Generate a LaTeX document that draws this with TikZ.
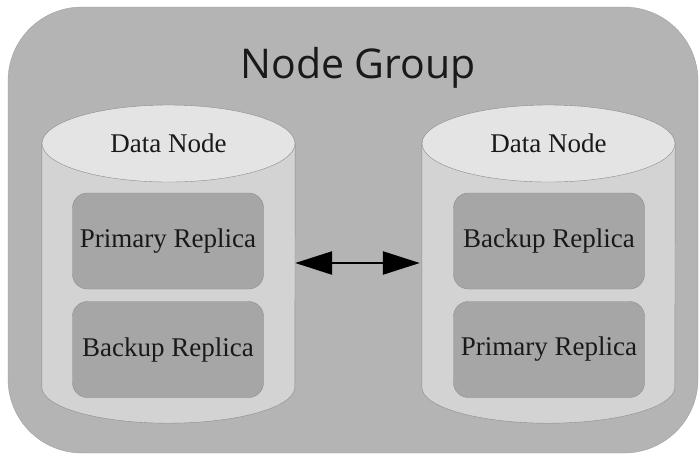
\documentclass[tikz,border=0pt]{standalone}
\usepackage{fontspec}
\setmainfont{Liberation Serif}
\newfontfamily\titlefont{Open Sans}
\usetikzlibrary{shapes.geometric,arrows.meta}
\definecolor{outerfill}{RGB}{180,180,180}
\definecolor{cylfill}{RGB}{211,211,211}
\definecolor{topfill}{RGB}{228,228,228}
\definecolor{boxfill}{RGB}{166,166,166}
\definecolor{edgecol}{RGB}{140,140,140}
\definecolor{txt}{RGB}{25,25,25}
\tikzset{
  replica/.style={draw=edgecol, line width=0.4pt, fill=boxfill, rounded corners=15pt,
    minimum width=191pt, minimum height=96pt, inner sep=0pt, font=\fontsize{27}{30}\selectfont, text=txt},
  cyltop/.style={ellipse, draw=edgecol, line width=0.4pt, fill=topfill, minimum width=253pt,
    minimum height=77pt, inner sep=0pt, font=\fontsize{27}{30}\selectfont, text=txt},
  cylbody/.style={minimum width=253pt, minimum height=244pt, inner sep=0pt},
  link/.style={line width=2.5pt, black, {Triangle[length=37pt,width=23pt]}-{Triangle[length=37pt,width=23pt]}}
}
\begin{document}
\begin{tikzpicture}[x=1pt,y=1pt]
\useasboundingbox (0,0) rectangle (700,-456);
% outer group
\node[draw=outerfill!85!black, line width=0.3pt, fill=outerfill, rounded corners=74pt,
  minimum width=690pt, minimum height=446pt, inner sep=0pt] (group) at (353,-230) {};
\node[anchor=base, font=\titlefont\fontsize{41}{45}\selectfont, text=txt] (title) at (358,-78) {Node Group};
% left cylinder
\node[cylbody] (cyl1) at (168.5,-265) {};
\path[fill=cylfill, draw=edgecol, line width=0.4pt] (cyl1.north west) -- (cyl1.south west)
  arc[start angle=180, end angle=360, x radius=126.5, y radius=36] -- (cyl1.north east) -- cycle;
\node[cyltop] (top1) at (168.5,-143.5) {Data Node};
\node[replica] (p1) at (168,-241) {Primary Replica};
\node[replica] (b1) at (168,-349.5) {Backup Replica};
% right cylinder
\node[cylbody] (cyl2) at (548.5,-265) {};
\path[fill=cylfill, draw=edgecol, line width=0.4pt] (cyl2.north west) -- (cyl2.south west)
  arc[start angle=180, end angle=360, x radius=126.5, y radius=36] -- (cyl2.north east) -- cycle;
\node[cyltop] (top2) at (548.5,-143.5) {Data Node};
\node[replica] (b2) at (549,-241) {Backup Replica};
\node[replica] (p2) at (549,-349.5) {Primary Replica};
% link
\path (cyl1.east) ++(0,2) coordinate (la);
\path (cyl2.west) ++(-2,2) coordinate (lb);
\draw[link] (la) -- (lb);
\end{tikzpicture}
\end{document}
